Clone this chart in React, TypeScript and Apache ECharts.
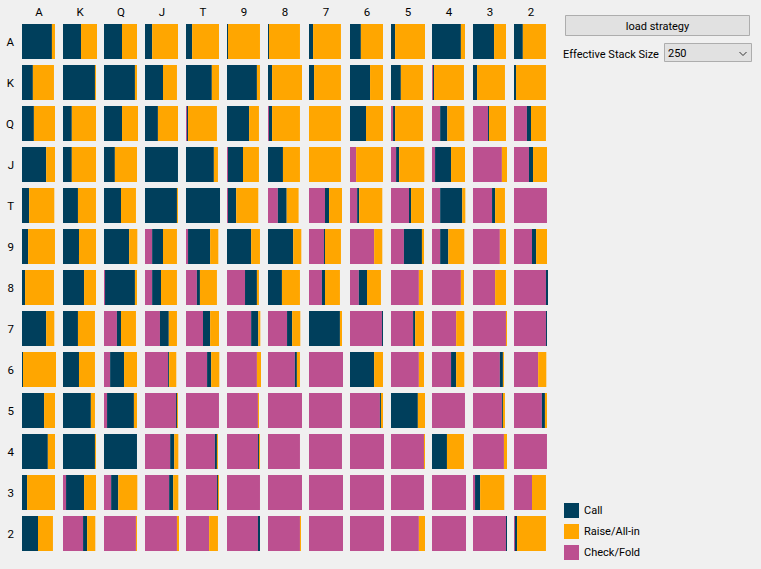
import React, { useEffect, useRef } from 'react';
import * as echarts from 'echarts';

const RANKS = ['A', 'K', 'Q', 'J', 'T', '9', '8', '7', '6', '5', '4', '3', '2'];
const ACTIONS = ['Check/Fold', 'Call', 'Raise/All-in'];
const LEGEND_ORDER = ['Call', 'Raise/All-in', 'Check/Fold'];
const BUTTON_LABEL = 'load strategy';
const STACK_LABEL = 'Effective Stack Size';
const STACK_SIZE = '250';

// frequencies in percent, rows = first rank, columns = second rank
const CHECK_FOLD = [
  [0, 0, 0, 0, 0, 0, 0, 0, 0, 0, 0, 0, 0],
  [0, 0, 0, 0, 0, 0, 0, 0, 0, 0, 3, 0, 0],
  [0, 0, 0, 0, 3, 0, 3, 0, 0, 6, 24, 44, 38],
  [0, 0, 0, 0, 0, 3, 0, 0, 18, 15, 9, 85, 44],
  [0, 0, 0, 0, 0, 3, 29, 47, 21, 53, 24, 56, 97],
  [0, 0, 0, 21, 6, 0, 0, 44, 71, 38, 24, 79, 53],
  [0, 0, 3, 21, 32, 53, 0, 38, 26, 82, 85, 65, 94],
  [0, 0, 38, 44, 50, 71, 56, 0, 94, 65, 71, 97, 94],
  [0, 0, 18, 68, 62, 88, 79, 100, 0, 82, 56, 79, 71],
  [0, 0, 9, 91, 97, 91, 100, 97, 88, 0, 97, 85, 82],
  [0, 0, 0, 74, 85, 91, 94, 97, 100, 97, 0, 91, 97],
  [0, 9, 21, 71, 91, 97, 100, 100, 100, 97, 100, 6, 53],
  [0, 59, 94, 94, 68, 91, 94, 100, 100, 82, 100, 97, 3],
];

const CALL = [
  [88, 53, 53, 21, 18, 3, 3, 12, 32, 12, 85, 62, 26],
  [32, 94, 91, 53, 76, 88, 12, 15, 59, 29, 3, 12, 6],
  [35, 26, 53, 38, 3, 65, 9, 0, 47, 6, 21, 3, 12],
  [71, 26, 32, 97, 82, 44, 44, 0, 0, 9, 47, 0, 12],
  [21, 44, 50, 94, 100, 24, 26, 12, 6, 6, 65, 9, 0],
  [18, 47, 74, 32, 65, 71, 74, 3, 0, 53, 24, 0, 12],
  [9, 62, 88, 26, 9, 35, 41, 9, 24, 0, 0, 0, 6],
  [71, 44, 12, 26, 21, 21, 15, 91, 3, 6, 0, 0, 3],
  [3, 47, 41, 3, 12, 0, 6, 0, 71, 0, 15, 9, 0],
  [65, 82, 79, 3, 0, 0, 0, 0, 3, 79, 0, 3, 9],
  [76, 94, 97, 12, 6, 3, 0, 0, 0, 0, 44, 0, 0],
  [15, 53, 21, 12, 3, 0, 0, 0, 0, 0, 0, 15, 0],
  [47, 12, 0, 0, 0, 6, 0, 0, 0, 0, 0, 3, 6],
];

const RAISE = [
  [9, 47, 44, 76, 79, 94, 91, 82, 65, 88, 12, 35, 68],
  [62, 3, 6, 41, 21, 9, 88, 79, 38, 65, 88, 82, 88],
  [62, 71, 47, 59, 85, 29, 82, 94, 50, 82, 50, 50, 44],
  [26, 71, 65, 0, 12, 47, 50, 94, 79, 74, 41, 15, 41],
  [74, 53, 44, 3, 0, 65, 35, 38, 68, 38, 9, 29, 0],
  [79, 50, 24, 41, 24, 26, 24, 47, 24, 6, 47, 18, 32],
  [85, 35, 6, 47, 50, 6, 53, 44, 41, 12, 9, 32, 0],
  [24, 50, 44, 24, 26, 6, 24, 6, 0, 26, 24, 3, 0],
  [97, 47, 38, 21, 24, 12, 9, 0, 26, 15, 24, 3, 24],
  [32, 12, 9, 3, 0, 3, 0, 0, 6, 21, 0, 6, 6],
  [21, 3, 0, 12, 3, 3, 0, 0, 0, 3, 50, 9, 0],
  [82, 35, 56, 15, 3, 0, 0, 0, 0, 0, 0, 71, 41],
  [44, 24, 3, 6, 26, 0, 3, 0, 0, 18, 0, 0, 85],
];

const COLORS: Record<string, string> = {
  Call: '#003f5c',
  'Raise/All-in': '#ffa600',
  'Check/Fold': '#bc5090',
};
const FONT = 'Roboto';
const FS = 11;

export default function App() {
  const ref = useRef<HTMLDivElement>(null);
  useEffect(() => {
    const chart = echarts.init(ref.current!, null, { renderer: 'svg' });
    const matrices = [CHECK_FOLD, CALL, RAISE];
    const grids: any[] = [];
    const xAxes: any[] = [];
    const yAxes: any[] = [];
    const series: any[] = [];
    RANKS.forEach((_, c) => {
      grids.push({ left: 22 + 41 * c, top: 21, width: 34, height: 533 });
      xAxes.push({ type: 'value', gridIndex: c, min: 0, max: 100, show: false });
      yAxes.push({
        type: 'category',
        gridIndex: c,
        data: RANKS,
        inverse: true,
        show: c === 0,
        axisLine: { show: false },
        axisTick: { show: false },
        splitLine: { show: false },
        axisLabel: { show: c === 0, color: '#000', fontSize: 11.5, fontFamily: FONT, margin: 8 },
      });
      ACTIONS.forEach((name, k) => {
        series.push({
          type: 'bar',
          name,
          xAxisIndex: c,
          yAxisIndex: c,
          stack: 'col' + c,
          barWidth: 35,
          data: matrices[k].map((row) => row[c]),
          itemStyle: { color: COLORS[name] },
          silent: true,
          emphasis: { disabled: true },
        });
      });
    });

    const txt = (text: string, x: number, y: number, align: string, fs = FS) => ({
      type: 'text',
      x,
      y,
      silent: true,
      style: {
        text,
        fill: '#000',
        fontSize: fs,
        fontFamily: FONT,
        textAlign: align,
        textVerticalAlign: 'middle',
        align,
        verticalAlign: 'middle',
      },
    });

    const graphic: any[] = [
      ...RANKS.map((r, c) => txt(r, 39 + 41 * c, 12, 'center', 11.5)),
      {
        type: 'rect',
        silent: true,
        shape: { x: 565.5, y: 15.5, width: 184, height: 20 },
        style: { fill: '#e1e1e1', stroke: '#adadad', lineWidth: 1 },
      },
      txt(BUTTON_LABEL, 657.5, 26, 'center'),
      txt(STACK_LABEL, 563, 54, 'left'),
      {
        type: 'rect',
        silent: true,
        shape: { x: 664.5, y: 43.5, width: 87, height: 18 },
        style: { fill: '#e1e1e1', stroke: '#adadad', lineWidth: 1 },
      },
      txt(STACK_SIZE, 668, 53.5, 'left'),
      {
        type: 'polyline',
        silent: true,
        shape: { points: [[739.5, 52], [743, 55.5], [746.5, 52]] },
        style: { stroke: '#333', lineWidth: 1, fill: 'none' },
      },
    ];

    chart.setOption({
      animation: false,
      backgroundColor: '#f0f0f0',
      grid: grids,
      xAxis: xAxes,
      yAxis: yAxes,
      series,
      legend: {
        data: LEGEND_ORDER,
        orient: 'vertical',
        left: 564,
        top: 503,
        padding: 0,
        itemWidth: 15,
        itemHeight: 15,
        itemGap: 6,
        icon: 'rect',
        selectedMode: false,
        textStyle: { color: '#000', fontSize: FS, fontFamily: FONT },
      },
      graphic,
    });
    return () => chart.dispose();
  }, []);

  return (
    <div
      ref={ref}
      style={{ position: 'fixed', left: 0, top: 0, width: 761, height: 569, background: '#f0f0f0' }}
    />
  );
}
